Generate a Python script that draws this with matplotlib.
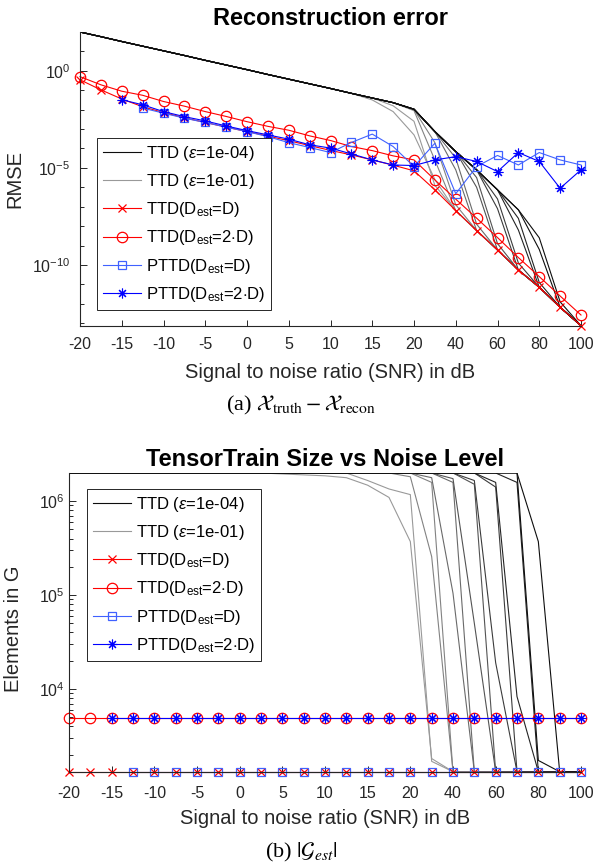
import numpy as np
import matplotlib
matplotlib.use("Agg")
import matplotlib.pyplot as plt
from matplotlib.lines import Line2D
from matplotlib.ticker import FixedLocator, NullFormatter

plt.rcParams["font.family"] = ["Liberation Sans", "DejaVu Sans"]
plt.rcParams["mathtext.fontset"] = "custom"
plt.rcParams["mathtext.rm"] = "Liberation Sans"
plt.rcParams["mathtext.it"] = "Liberation Sans:italic"
plt.rcParams["mathtext.bf"] = "Liberation Sans:bold"

# SNR steps (plotted on an index axis, as in the original)
snr = [-20, -17.5, -15, -12.5, -10, -7.5, -5, -2.5, 0, 2.5, 5, 7.5, 10,
       12.5, 15, 17.5, 20, 30, 40, 50, 60, 70, 80, 90, 100]
xtick_idx = [0, 2, 4, 6, 8, 10, 12, 14, 16, 18, 20, 22, 24]
xtick_labels = ["-20", "-15", "-10", "-5", "0", "5", "10", "15", "20",
                "40", "60", "80", "100"]

# ---- (a) reconstruction error, log10(RMSE)
rmse_ttd_d = [-0.46, -0.98, -1.45, -1.85, -2.15, -2.42, -2.66, -2.90, -3.13,
              -3.36, -3.60, -3.85, -4.10, -4.33, -4.59, -4.86, -5.15, -6.13,
              -7.20, -8.23, -9.23, -10.26, -11.15, -12.18, -13.13]
rmse_ttd_2d = [-0.30, -0.72, -1.05, -1.26, -1.58, -1.82, -2.10, -2.35, -2.62,
               -2.86, -3.06, -3.35, -3.59, -3.90, -4.11, -4.38, -4.59, -5.62,
               -6.61, -7.59, -8.59, -9.62, -10.60, -11.60, -12.58]
# PTTD starts at -12.5 dB (D) and -15 dB (2D)
rmse_pttd_d = [-1.92, -2.18, -2.44, -2.66, -2.90, -3.13, -3.39, -3.70, -3.95,
               -4.21, -3.69, -3.26, -3.90, -4.93, -3.73, -6.33, -4.93, -4.36,
               -4.85, -4.21, -4.59, -4.85]
rmse_pttd_2d = [-1.49, -1.75, -2.10, -2.36, -2.58, -2.84, -3.08, -3.30, -3.52,
                -3.81, -3.98, -4.28, -4.59, -4.85, -4.88, -4.59, -4.42, -4.67,
                -5.19, -4.21, -4.67, -6.05, -5.10]
# TTD with fixed epsilon: full-rank branch (noise dominated)
rmse_ttd_full = [2.00, 1.76, 1.51, 1.27, 1.03, 0.79, 0.54, 0.30, 0.06, -0.19,
                 -0.43, -0.67, -0.91, -1.16, -1.40, -1.64, -1.98, -3.13, -4.16,
                 -5.10, -6.13, -7.16, -8.20, -9.20, -10.20]
# (eps level 0=1e-01 ... 6=1e-04, index where it leaves the full branch,
#  values until it joins TTD(D))
rmse_ttd_eps = [
    (0, 14, [-1.50, -2.10, -3.30, -5.60]),
    (0, 15, [-1.80, -2.60, -5.90]),
    (1, 16, [-2.05, -4.60]),
    (1, 16, [-2.00, -3.70, -6.90]),
    (2, 17, [-3.13, -5.10]),
    (2, 17, [-3.13, -4.50, -7.90]),
    (3, 18, [-4.16, -6.00]),
    (3, 18, [-4.16, -5.50, -8.90]),
    (4, 19, [-5.10, -7.10]),
    (4, 19, [-5.10, -6.60, -9.90]),
    (5, 20, [-6.13, -8.20]),
    (5, 20, [-6.13, -7.60, -10.90]),
    (6, 21, [-7.16, -9.20]),
    (6, 21, [-7.16, -8.60, -11.90]),
]

# ---- (b) number of elements in the cores, log10
size_ttd_d = [3.12] * 25
size_ttd_2d = [3.69] * 25
size_pttd_d = [3.12] * 22
size_pttd_2d = [3.69] * 23
size_full = 6.30
size_min = 3.12
size_ttd_eps = [
    (0, 10, [6.29, 6.28, 6.27, 6.25, 6.17, 6.04, 5.57, 3.26]),
    (0, 14, [6.22, 6.13, 6.07, 3.23]),
    (1, 16, [6.30, 6.20]),
    (1, 16, [6.26, 5.41]),
    (2, 17, [6.30, 6.20]),
    (2, 17, [6.25, 5.02]),
    (3, 18, [6.30, 6.18]),
    (3, 18, [6.24, 4.70]),
    (4, 19, [6.30, 6.15]),
    (4, 19, [6.22, 4.28]),
    (5, 20, [6.30, 6.20]),
    (5, 20, [6.20, 3.92]),
    (6, 21, [6.30, 5.57]),
    (6, 21, [6.30, 3.24]),
]

n_levels = 7
def eps_color(level):
    g = 0.6 - (0.55 * level / (n_levels - 1))
    return (g, g, g)

RED = (1.0, 0.0, 0.0)
BLUE = (0.0, 0.0, 1.0)
BLUE_SQ = (0.25, 0.38, 1.0)
AX = "0.15"
LW = 0.8
star = (8, 2, 0)
mk = {"x": dict(marker="x", ms=5.5, mew=0.9),
      "o": dict(marker="o", ms=7.5, mfc="none", mew=0.9),
      "s": dict(marker="s", ms=5.5, mfc="none", mew=0.9),
      "*": dict(marker=star, ms=7, mew=0.8)}

fig = plt.figure(figsize=(5.96, 8.65), dpi=100)
ax1 = fig.add_axes([80 / 596, 1 - 325.7 / 865, 501 / 596, 293.7 / 865])
ax2 = fig.add_axes([69 / 596, 1 - 771.7 / 865, 512 / 596, 298.7 / 865])

idx = np.arange(len(snr))

# ---------------- top
for level, start, mid in rmse_ttd_eps:
    vals = rmse_ttd_full[:start] + mid + rmse_ttd_d[start + len(mid):]
    ax1.plot(idx, 10.0 ** np.array(vals), color=eps_color(level), lw=LW)
ax1.plot(idx, 10.0 ** np.array(rmse_ttd_d), color=RED, lw=LW, clip_on=False, **mk["x"])
ax1.plot(idx, 10.0 ** np.array(rmse_ttd_2d), color=RED, lw=LW, clip_on=False, **mk["o"])
ax1.plot(idx[3:], 10.0 ** np.array(rmse_pttd_d), color=BLUE_SQ, lw=LW, clip_on=False, **mk["s"])
ax1.plot(idx[2:], 10.0 ** np.array(rmse_pttd_2d), color=BLUE, lw=LW, clip_on=False, **mk["*"])
ax1.set_yscale("log")
ax1.set_ylim(10.0 ** min(rmse_ttd_d), 10.0 ** max(rmse_ttd_full))
ax1.yaxis.set_major_locator(FixedLocator([1e-10, 1e-5, 1e0]))
ax1.set_yticklabels([r"$10^{-10}$", r"$10^{-5}$", r"$10^{0}$"])
ax1.yaxis.set_minor_locator(FixedLocator([10.0 ** k for k in range(-13, 3)]))
ax1.yaxis.set_minor_formatter(NullFormatter())
ax1.set_title("Reconstruction error", fontsize=17, fontweight="bold", pad=5)
ax1.set_ylabel("RMSE", fontsize=14.5, color=AX)
ax1.yaxis.set_label_coords(-0.112, 0.5)

# ---------------- bottom
for level, start, mid in size_ttd_eps:
    vals = [size_full] * start + mid + [size_min] * (25 - start - len(mid))
    ax2.plot(idx, 10.0 ** np.array(vals), color=eps_color(level), lw=LW)
ax2.plot(idx, 10.0 ** np.array(size_ttd_d), color=RED, lw=LW, clip_on=False, **mk["x"])
ax2.plot(idx, 10.0 ** np.array(size_ttd_2d), color=RED, lw=LW, clip_on=False, **mk["o"])
ax2.plot(idx[3:], 10.0 ** np.array(size_pttd_d), color=BLUE_SQ, lw=LW, clip_on=False, **mk["s"])
ax2.plot(idx[2:], 10.0 ** np.array(size_pttd_2d), color=BLUE, lw=LW, clip_on=False, **mk["*"])
ax2.set_yscale("log")
ax2.set_ylim(10.0 ** size_min, 10.0 ** size_full)
ax2.yaxis.set_major_locator(FixedLocator([1e4, 1e5, 1e6]))
ax2.set_yticklabels([r"$10^{4}$", r"$10^{5}$", r"$10^{6}$"])
ax2.yaxis.set_minor_locator(FixedLocator([m * 10.0 ** k for k in range(3, 7) for m in range(2, 10)]))
ax2.yaxis.set_minor_formatter(NullFormatter())
ax2.set_title("TensorTrain Size vs Noise Level", fontsize=17, fontweight="bold", pad=5)
ax2.set_ylabel("Elements in G", fontsize=14.5, color=AX)
ax2.yaxis.set_label_coords(-0.09, 0.48)

for ax, lx, ly, xpad, ypad, xly in [(ax1, 0.034, 0.639, 8, 7, -0.127),
                                     (ax2, 0.035, 0.946, 10, 3, -0.125)]:
    ax.set_xlim(0, len(snr) - 1)
    ax.set_xticks(xtick_idx)
    ax.set_xticklabels(xtick_labels)
    ax.set_xlabel("Signal to noise ratio (SNR) in dB", fontsize=14.5, color=AX)
    ax.tick_params(axis="x", direction="in", length=4, width=0.7, colors=AX,
                   labelsize=11.5, pad=xpad)
    ax.tick_params(axis="y", which="both", direction="in", width=0.7, colors=AX,
                   labelsize=11.5, pad=ypad)
    ax.tick_params(axis="y", which="major", length=5)
    ax.tick_params(axis="y", which="minor", length=3)
    ax.spines["top"].set_visible(False)
    ax.spines["right"].set_visible(False)
    for s in ("left", "bottom"):
        ax.spines[s].set_color(AX)
        ax.spines[s].set_linewidth(0.8)
    ax.xaxis.set_label_coords(0.5, xly)
    handles = [
        Line2D([], [], color=eps_color(6), lw=LW),
        Line2D([], [], color=eps_color(0), lw=LW),
        Line2D([], [], color=RED, lw=LW, **mk["x"]),
        Line2D([], [], color=RED, lw=LW, **mk["o"]),
        Line2D([], [], color=BLUE_SQ, lw=LW, **mk["s"]),
        Line2D([], [], color=BLUE, lw=LW, **mk["*"]),
    ]
    labels = [r"TTD ($\epsilon$=1e-04)", r"TTD ($\epsilon$=1e-01)",
              r"TTD(D$_{\rm est}$=D)", r"TTD(D$_{\rm est}$=2$\cdot$D)",
              r"PTTD(D$_{\rm est}$=D)", r"PTTD(D$_{\rm est}$=2$\cdot$D)"]
    leg = ax.legend(handles, labels, loc="upper left", bbox_to_anchor=(lx, ly),
                    borderaxespad=0, fontsize=12, fancybox=False, framealpha=1,
                    edgecolor=AX, handlelength=2.3, handletextpad=0.3,
                    labelspacing=0.55, borderpad=0.35)
    leg.get_frame().set_linewidth(0.7)

fig.text(0.505, 1 - 405 / 865, r"(a) $\mathcal{X}_{\rm truth} - \mathcal{X}_{\rm recon}$",
         ha="center", va="center", fontsize=16, family="Liberation Serif",
         math_fontfamily="stix")
fig.text(0.505, 1 - 852 / 865, r"(b) $|\mathcal{G}_{est}|$",
         ha="center", va="center", fontsize=16, family="Liberation Serif",
         math_fontfamily="stix")

fig.savefig("out.png", dpi=100)
